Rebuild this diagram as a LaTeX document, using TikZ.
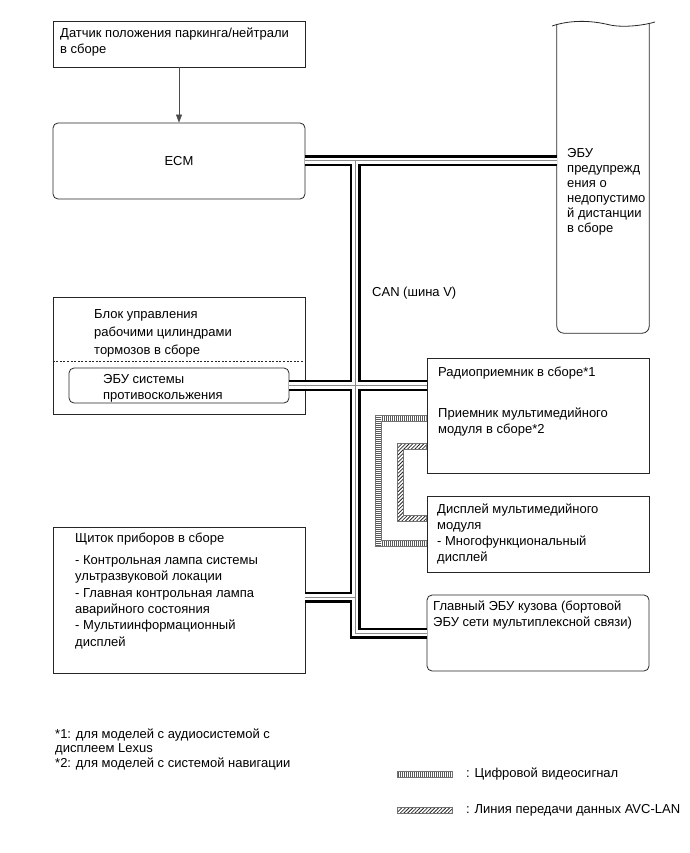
\documentclass[tikz,border=0pt]{standalone}
\usepackage{fontspec}
\setmainfont{Liberation Sans}
\usetikzlibrary{calc,arrows.meta,patterns.meta}
\tikzset{
  box/.style={draw=black!85, line width=0.8pt, inner sep=0pt},
  rbox/.style={box, rounded corners=5pt},
  txt/.style={anchor=north west, align=left, inner sep=0pt, font=\fontsize{13}{16}\selectfont},
  sig/.style={draw=black!70, line width=0.6pt, -{Triangle[length=8pt,width=6pt]}},
  busout/.style={line width=11pt, black, line join=miter},
  busin/.style={line width=6.5pt, white, line join=miter},
  busmid/.style={line width=1pt, black!45, line join=miter},
  ladderfill/.style={pattern={Lines[angle=#1, distance=2pt, line width=0.55pt]}, pattern color=black!65},
  avcfill/.style={pattern={Lines[angle=45, distance=2.6pt, line width=0.8pt]}, pattern color=black!85},
  stripe/.style={draw=black!55, line width=0.5pt}
}
% CAN wires, drawn in three passes so that the joints merge
\newcommand\canwires[1]{%
  \draw[#1] (ecm.east) -- (ecm.east -| ecu.west);
  \draw[#1] (j1) -- (j1 |- body.west) -- (body.west);
  \draw[#1] (abs.east) -- (abs.east -| radio.west);
  \draw[#1] (j3 -| dash.east) -- (j3);
}

\begin{document}
\begin{tikzpicture}[x=1pt, y=-1pt]
\useasboundingbox (0,0) rectangle (689,853);

% blocks
\node[box, minimum width=252pt, minimum height=46pt] (sensor) at (179,44) {};
\node[txt] (sensortxt) at (60,27.5) {Датчик положения паркинга/нейтрали\\в сборе};

\node[rbox, minimum width=252pt, minimum height=76pt, font=\fontsize{13}{16}\selectfont] (ecm) at (179,161) {ECM};

\node[inner sep=0pt, minimum width=92pt, minimum height=309pt] (ecu) at (603,178.5) {};
\draw[box, rounded corners=7pt] (ecu.north west) -- (ecu.south west) -- (ecu.south east) -- (ecu.north east);
\draw[box] (552,26) .. controls (570,20) and (590,20) .. (610,25) .. controls (625,28) and (645,25) .. (655,22);
\node[txt, font=\fontsize{13}{15}\selectfont] (ecutxt) at (567,148.5) {ЭБУ\\предупрежд\\ения о\\недопустимо\\й дистанции\\в сборе};

\node[box, minimum width=252pt, minimum height=117pt] (brake) at (179,355.5) {};
\node[txt, font=\fontsize{13}{18}\selectfont] (braketxt) at (94,309.5) {Блок управления\\рабочими цилиндрами\\тормозов в сборе};
\draw[black!85, line width=0.8pt, dash pattern=on 2pt off 1.6pt] (brake.west |- 0,361) -- (brake.east |- 0,361);
\node[rbox, minimum width=220pt, minimum height=35pt] (abs) at (179,385.5) {};
\node[txt] (abstxt) at (103,374.5) {ЭБУ системы\\противоскольжения};

\node[box, minimum width=252pt, minimum height=146pt] (dash) at (179,600) {};
\node[txt] (dashtxt) at (75,532.5) {Щиток приборов в сборе};
\node[txt, font=\fontsize{13}{16.3}\selectfont] (dashlist) at (75,555.5) {- Контрольная лампа системы\\ультразвуковой локации\\- Главная контрольная лампа\\аварийного состояния\\- Мультиинформационный\\дисплей};

\node[box, minimum width=222pt, minimum height=115pt] (radio) at (538,415.5) {};
\node[txt] (radiotxt) at (438,366.5) {Радиоприемник в сборе*1};
\node[txt] (radiotxtb) at (438,407.5) {Приемник мультимедийного\\модуля в сборе*2};

\node[box, minimum width=222pt, minimum height=76pt] (disp) at (538,534) {};
\node[txt] (disptxt) at (437,503.5) {Дисплей мультимедийного\\модуля\\- Многофункциональный\\дисплей};

\node[rbox, minimum width=222pt, minimum height=76pt] (body) at (538,633) {};
\node[txt] (bodytxt) at (433,600.5) {Главный ЭБУ кузова (бортовой\\ЭБУ сети мультиплексной связи)};

\draw[sig] (sensor) -- (ecm);

% CAN bus
\coordinate (j1) at (355,161);
\coordinate (j3) at (355,597);
\canwires{busout}
\canwires{busin}
\canwires{busmid}
\node[anchor=west, inner sep=0pt, font=\fontsize{13}{16}\selectfont] (cantxt) at (372,293) {CAN (шина V)};

% digital video line
\coordinate (v1) at (radio.west |- 0,418);
\coordinate (v2) at (378,418);
\coordinate (v3) at (378,543);
\coordinate (v4) at (disp.west |- 0,543);
\fill[ladderfill=90] ($(v2)+(3,-3)$) rectangle ($(v1)+(0,3)$);
\fill[ladderfill=0] ($(v2)+(-3,-3)$) rectangle ($(v3)+(3,3)$);
\fill[ladderfill=90] ($(v3)+(3,-3)$) rectangle ($(v4)+(0,3)$);
\draw[stripe] ($(v1)+(0,-3)$) -- ($(v2)+(-3,-3)$) -- ($(v3)+(-3,3)$) -- ($(v4)+(0,3)$)
  ($(v1)+(0,3)$) -- ($(v2)+(3,3)$) -- ($(v3)+(3,-3)$) -- ($(v4)+(0,-3)$);

% AVC-LAN line
\coordinate (a1) at (radio.west |- 0,446);
\coordinate (a2) at (400,446);
\coordinate (a3) at (400,518);
\coordinate (a4) at (disp.west |- 0,518);
\filldraw[avcfill, stripe] ($(a1)+(0,-3)$) -- ($(a2)+(-3,-3)$) -- ($(a3)+(-3,3)$) -- ($(a4)+(0,3)$)
  -- ($(a4)+(0,-3)$) -- ($(a3)+(3,-3)$) -- ($(a2)+(3,3)$) -- ($(a1)+(0,3)$) -- cycle;

% notes
\node[txt, font=\fontsize{13}{14.5}\selectfont] (note1) at (55,728.5) {*1: для моделей с аудиосистемой с\\дисплеем Lexus};
\node[txt] (note2) at (55,757.5) {*2: для моделей с системой навигации};

% legend
\coordinate (lg1) at (397,774);
\coordinate (lg1e) at (452,774);
\coordinate (lg2) at (397,810);
\coordinate (lg2e) at (452,810);
\filldraw[ladderfill=90, stripe] ($(lg1)+(0,-3)$) rectangle ($(lg1e)+(0,3)$);
\filldraw[avcfill, stripe] ($(lg2)+(0,-3)$) rectangle ($(lg2e)+(0,3)$);
\node[anchor=west, inner sep=0pt, font=\fontsize{13}{16}\selectfont] (lgvidtxt) at (466,774) {: Цифровой видеосигнал};
\node[anchor=west, inner sep=0pt, font=\fontsize{13}{16}\selectfont] (lgavctxt) at (466,810) {: Линия передачи данных AVC-LAN};
\end{tikzpicture}
\end{document}
